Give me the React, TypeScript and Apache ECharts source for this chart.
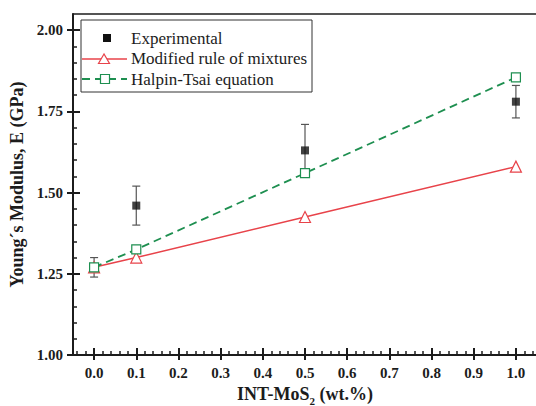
import React, { useEffect, useRef } from "react";
import * as echarts from "echarts";

const xValues = [0, 0.1, 0.5, 1.0];
const experimental = [1.27, 1.46, 1.63, 1.78];
const expError = [0.03, 0.06, 0.08, 0.05];
const ruleOfMixtures = [1.27, 1.30, 1.425, 1.58];
const halpinTsai = [1.27, 1.325, 1.56, 1.855];

const xTicks = [0, 0.1, 0.2, 0.3, 0.4, 0.5, 0.6, 0.7, 0.8, 0.9, 1.0];
const yTicks = [1.0, 1.25, 1.5, 1.75, 2.0];
const X_MIN = -0.05, X_MAX = 1.05, Y_MIN = 1.0, Y_MAX = 2.05;

const xMinor: number[] = [];
for (let i = -2; i <= 52; i++) {
  if (i % 5 !== 0) xMinor.push(Math.round(i * 2) / 100);
}
const yMinor: number[] = [];
for (let i = 21; i <= 40; i++) {
  if (i % 5 !== 0) yMinor.push(Math.round(i * 5) / 100);
}

const SERIF = '"Liberation Serif", "Times New Roman", serif';
const RED = "#e8434a";
const GREEN = "#1e8f50";
const INK = "#1c1c1c";

export default function App() {
  const ref = useRef<HTMLDivElement>(null);
  useEffect(() => {
    if (!ref.current) return;
    const chart = echarts.init(ref.current, undefined, { renderer: "svg" });
    const grid = { left: 73, top: 14, width: 464, height: 341, containLabel: false, outerBoundsMode: "none" };
    const baseX = {
      type: "value",
      min: X_MIN,
      max: X_MAX,
      splitLine: { show: false },
    };
    const baseY = {
      type: "value",
      min: Y_MIN,
      max: Y_MAX,
      splitLine: { show: false },
    };
    const option: any = {
      animation: false,
      backgroundColor: "#fff",
      grid,
      xAxis: [
        {
          ...baseX,
          position: "bottom",
          axisLine: { show: true, onZero: false, lineStyle: { color: INK, width: 2 } },
          axisTick: { show: true, inside: false, length: 5, customValues: xTicks, lineStyle: { color: INK, width: 2 } },
          axisLabel: {
            show: true,
            customValues: xTicks,
            margin: 10,
            color: INK,
            fontFamily: SERIF,
            fontWeight: "bold",
            fontSize: 15,
            formatter: (v: number) => v.toFixed(1),
          },
          name: "{a|INT-MoS}{s|2}{a| (wt.%)}",
          nameLocation: "middle",
          nameGap: 27,
          nameTextStyle: {
            rich: {
              a: { fontFamily: SERIF, fontWeight: "bold", fontSize: 18, color: INK, lineHeight: 24 },
              s: { fontFamily: SERIF, fontWeight: "bold", fontSize: 11, color: INK, lineHeight: 14, verticalAlign: "bottom" },
            },
          },
        },
        {
          ...baseX,
          position: "bottom",
          axisLine: { show: false, onZero: false },
          axisTick: { show: true, inside: true, length: 7, customValues: xTicks, lineStyle: { color: INK, width: 2 } },
          axisLabel: { show: false },
        },
        {
          ...baseX,
          position: "bottom",
          axisLine: { show: false, onZero: false },
          axisTick: { show: true, inside: true, length: 4, customValues: xMinor, lineStyle: { color: INK, width: 1.5 } },
          axisLabel: { show: false },
        },
        {
          ...baseX,
          position: "top",
          axisLine: { show: true, onZero: false, lineStyle: { color: INK, width: 1.5 } },
          axisTick: { show: false },
          axisLabel: { show: false },
        },
      ],
      yAxis: [
        {
          ...baseY,
          position: "left",
          axisLine: { show: true, onZero: false, lineStyle: { color: INK, width: 2 } },
          axisTick: { show: true, inside: false, length: 6, customValues: yTicks, lineStyle: { color: INK, width: 2 } },
          axisLabel: {
            show: true,
            customValues: yTicks,
            margin: 10,
            color: INK,
            fontFamily: SERIF,
            fontWeight: "bold",
            fontSize: 15,
            formatter: (v: number) => v.toFixed(2),
          },
          name: "Young´s Modulus, E (GPa)",
          nameLocation: "middle",
          nameGap: 44,
          nameTextStyle: { fontFamily: SERIF, fontWeight: "bold", fontSize: 18, color: INK },
        },
        {
          ...baseY,
          position: "left",
          axisLine: { show: false, onZero: false },
          axisTick: { show: true, inside: true, length: 7, customValues: yTicks, lineStyle: { color: INK, width: 2 } },
          axisLabel: { show: false },
        },
        {
          ...baseY,
          position: "left",
          axisLine: { show: false, onZero: false },
          axisTick: { show: true, inside: true, length: 4, customValues: yMinor, lineStyle: { color: INK, width: 1.5 } },
          axisLabel: { show: false },
        },
      ],
      series: [
        {
          type: "custom",
          name: "error",
          xAxisIndex: 0,
          yAxisIndex: 0,
          z: 2,
          data: xValues.map((x, i) => [x, experimental[i] - expError[i], experimental[i] + expError[i]]),
          encode: { x: 0, y: [1, 2] },
          renderItem: (params: any, api: any) => {
            const x = api.value(0);
            const lo = api.coord([x, api.value(1)]);
            const hi = api.coord([x, api.value(2)]);
            const cap = 4;
            const style = { stroke: "#555", lineWidth: 1.2 };
            return {
              type: "group",
              children: [
                { type: "line", shape: { x1: lo[0], y1: lo[1], x2: hi[0], y2: hi[1] }, style },
                { type: "line", shape: { x1: lo[0] - cap, y1: lo[1], x2: lo[0] + cap, y2: lo[1] }, style },
                { type: "line", shape: { x1: hi[0] - cap, y1: hi[1], x2: hi[0] + cap, y2: hi[1] }, style },
              ],
            };
          },
        },
        {
          type: "scatter",
          name: "Experimental",
          z: 3,
          data: xValues.map((x, i) => [x, experimental[i]]),
          symbol: "rect",
          symbolSize: 8,
          itemStyle: { color: "#111" },
        },
        {
          type: "line",
          name: "Modified rule of mixtures",
          z: 4,
          data: xValues.map((x, i) => [x, ruleOfMixtures[i]]),
          symbol: "triangle",
          symbolSize: 11,
          lineStyle: { color: RED, width: 1.5 },
          itemStyle: { color: "#fff", borderColor: RED, borderWidth: 1.2 },
        },
        {
          type: "line",
          name: "Halpin-Tsai equation",
          z: 5,
          data: xValues.map((x, i) => [x, halpinTsai[i]]),
          symbol: "rect",
          symbolSize: 9,
          lineStyle: { color: GREEN, width: 1.8, type: [8, 5] },
          itemStyle: { color: "#fff", borderColor: GREEN, borderWidth: 1.2 },
        },
      ],
      graphic: [
        {
          type: "rect",
          z: 100,
          shape: { x: 81, y: 20, width: 231, height: 72 },
          style: { fill: "#fff", stroke: "#333", lineWidth: 1 },
        },
        { type: "rect", z: 101, shape: { x: 103, y: 34, width: 8, height: 8 }, style: { fill: "#111" } },
        {
          type: "text",
          z: 101,
          style: { text: "Experimental", x: 131, y: 38, fill: INK, fontSize: 17, fontFamily: SERIF, verticalAlign: "middle" },
        },
        { type: "line", z: 101, shape: { x1: 82, y1: 59, x2: 127, y2: 59 }, style: { stroke: RED, lineWidth: 1.5 } },
        {
          type: "polygon",
          z: 102,
          shape: { points: [[104, 54], [98.5, 63.5], [109.5, 63.5]] },
          style: { fill: "#fff", stroke: RED, lineWidth: 1.2 },
        },
        {
          type: "text",
          z: 101,
          style: { text: "Modified rule of mixtures", x: 131, y: 58, fill: INK, fontSize: 17, fontFamily: SERIF, verticalAlign: "middle" },
        },
        { type: "line", z: 101, shape: { x1: 82, y1: 79, x2: 127, y2: 79 }, style: { stroke: GREEN, lineWidth: 1.8, lineDash: [8, 5] } },
        { type: "rect", z: 102, shape: { x: 100.5, y: 74.5, width: 9, height: 9 }, style: { fill: "#fff", stroke: GREEN, lineWidth: 1.2 } },
        {
          type: "text",
          z: 101,
          style: { text: "Halpin-Tsai equation", x: 131, y: 79, fill: INK, fontSize: 17, fontFamily: SERIF, verticalAlign: "middle" },
        },
      ],
    };
    chart.setOption(option);
    return () => chart.dispose();
  }, []);
  return (
    <div
      ref={ref}
      style={{ position: "fixed", left: 0, top: 0, width: 536, height: 406, background: "#fff" }}
    />
  );
}
